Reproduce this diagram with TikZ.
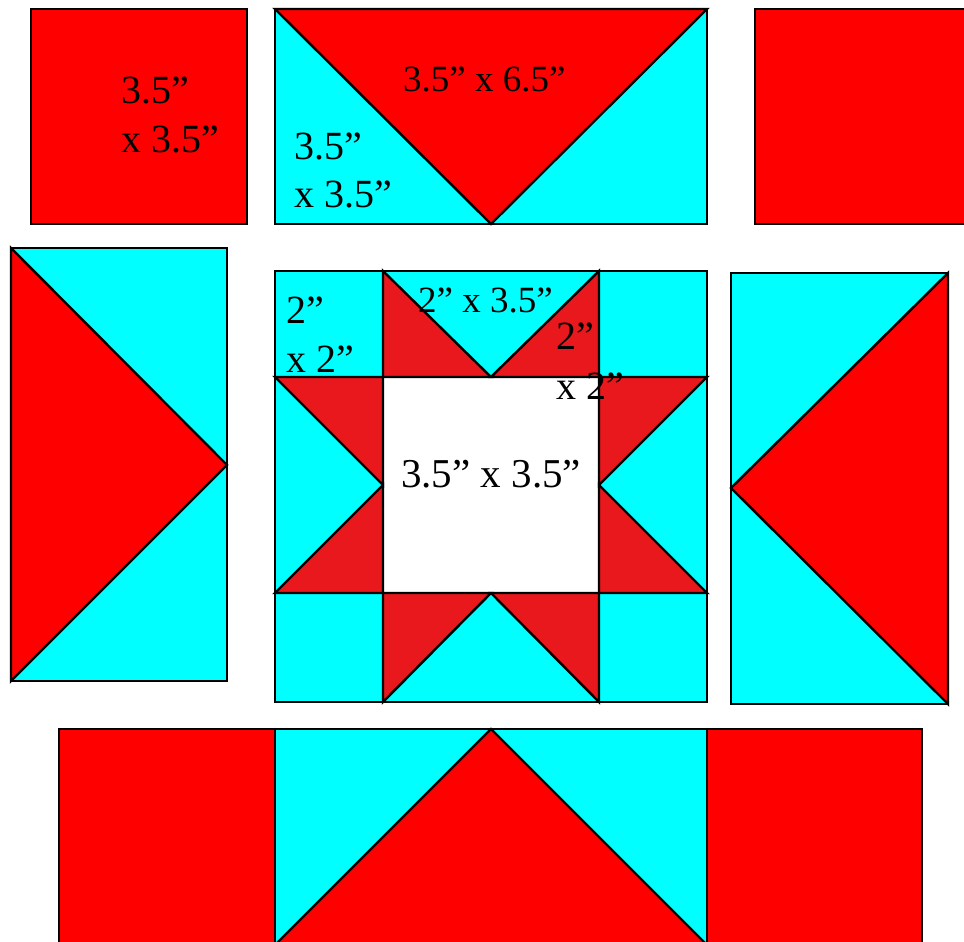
\documentclass[tikz,border=0pt]{standalone}
\usepackage{fontspec}
\setmainfont{Liberation Serif}
\definecolor{qred}{RGB}{255,0,0}
\definecolor{qcyan}{RGB}{0,255,255}
\definecolor{sred}{RGB}{232,24,28}
\begin{document}
\begin{tikzpicture}[x=1pt,y=-1pt, line width=2.4pt, line join=miter,
  redp/.style={fill=qred,draw=black},
  cyanp/.style={fill=qcyan,draw=black},
  starp/.style={fill=sred,draw=black},
  lbl/.style={anchor=base west, inner sep=0pt, text=black},
  big/.style={font=\fontsize{40}{48}\selectfont},
  mid/.style={font=\fontsize{37}{44}\selectfont},
  huge/.style={font=\fontsize{41}{49}\selectfont}]
\useasboundingbox (0,0) rectangle (964,942);
\clip (0,0) rectangle (964,942);
% top row
\path[redp] (31,9) rectangle (247,224);
\path[cyanp] (275,9) rectangle (707,224);
\path[redp] (275,9) -- (707,9) -- (491,224) -- cycle;
\path[redp] (755,9) rectangle (980,224);
% left middle
\path[cyanp] (11,248) rectangle (227,681);
\path[redp] (11,248) -- (227,465) -- (11,681) -- cycle;
% right middle
\path[cyanp] (731,273) rectangle (948,704);
\path[redp] (948,273) -- (731,488) -- (948,704) -- cycle;
% centre block
\path[cyanp] (275,271) rectangle (707,702);
\path[fill=white,draw=black] (383,377) rectangle (599,593);
\path[starp] (383,271) -- (491,377) -- (383,377) -- cycle;
\path[starp] (599,271) -- (491,377) -- (599,377) -- cycle;
\path[starp] (275,377) -- (383,377) -- (383,485) -- cycle;
\path[starp] (275,593) -- (383,593) -- (383,485) -- cycle;
\path[starp] (707,377) -- (599,377) -- (599,485) -- cycle;
\path[starp] (707,593) -- (599,593) -- (599,485) -- cycle;
\path[starp] (383,702) -- (383,593) -- (491,593) -- cycle;
\path[starp] (599,702) -- (599,593) -- (491,593) -- cycle;
\draw (275,377) -- (707,377);
\draw (275,593) -- (707,593);
\draw (383,271) -- (383,702);
\draw (599,271) -- (599,702);
\draw (275,271) rectangle (707,702);
% bottom row
\path[redp] (59,729) rectangle (275,960);
\path[cyanp] (275,729) rectangle (707,960);
\path[redp] (707,729) rectangle (922,960);
\path[redp] (491,729) -- (275,945) -- (275,960) -- (707,960) -- (707,945) -- cycle;
% labels
\node[lbl,big] (l1a) at (120,103) {3.5”};
\node[lbl,big] (l1b) at (120,152) {x 3.5”};
\node[lbl,mid] (l2) at (402,92) {3.5” x 6.5”};
\node[lbl,big] (l3a) at (293,159) {3.5”};
\node[lbl,big] (l3b) at (293,207) {x 3.5”};
\node[lbl,big] (l4a) at (285,323) {2”};
\node[lbl,big] (l4b) at (285,372) {x 2”};
\node[lbl,mid] (l5) at (417,312) {2” x 3.5”};
\node[lbl,big] (l6a) at (555,349) {2”};
\node[lbl,big] (l6b) at (555,399) {x 2”};
\node[lbl,huge] (l7) at (400,487) {3.5” x 3.5”};
\end{tikzpicture}
\end{document}
